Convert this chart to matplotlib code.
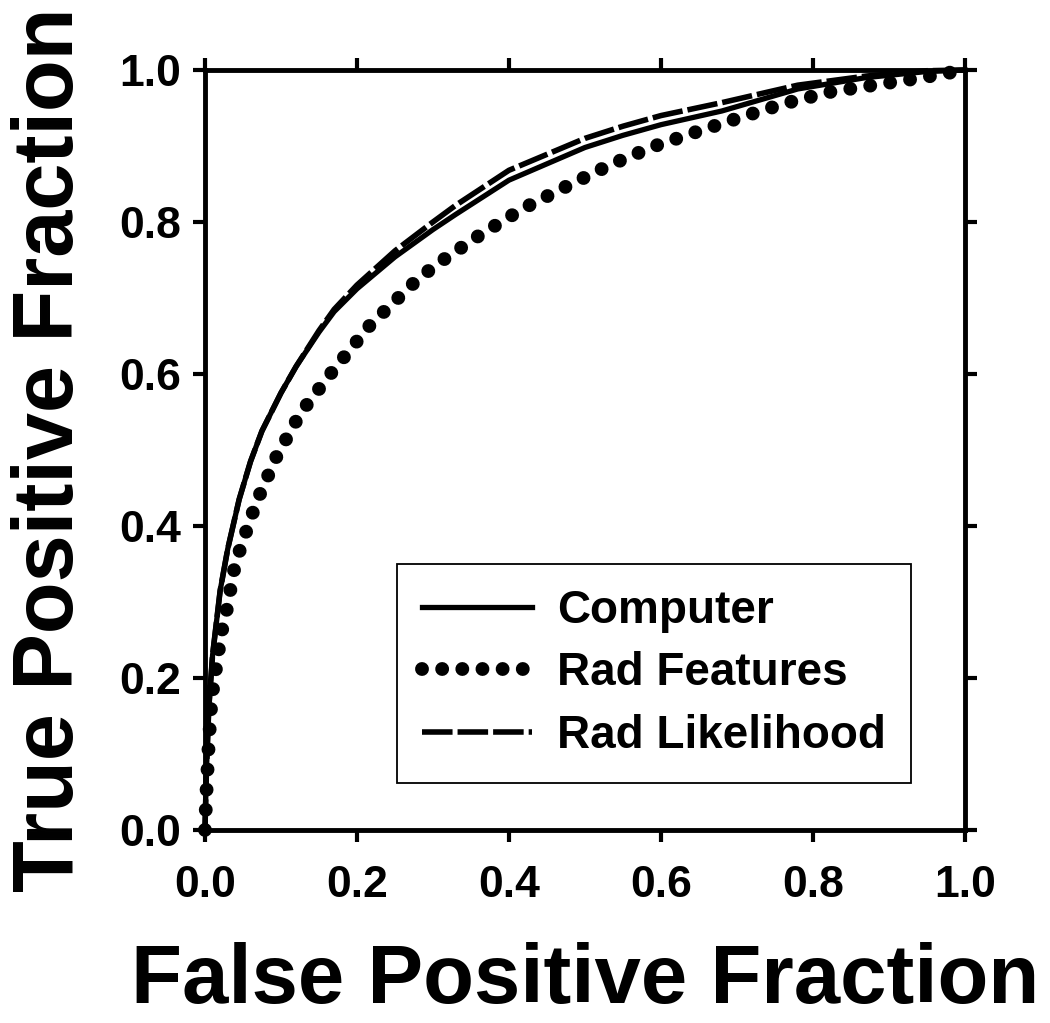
import matplotlib
matplotlib.use('Agg')
import matplotlib.pyplot as plt

# ROC curves
comp_fpf = [0, 0.002, 0.005, 0.01, 0.02, 0.03, 0.045, 0.06, 0.075, 0.1, 0.12, 0.15, 0.17,
            0.2, 0.25, 0.3, 0.33, 0.4, 0.5, 0.55, 0.6, 0.68, 0.78, 0.87, 0.95, 1.0]
comp_tpf = [0, 0.08, 0.16, 0.23, 0.315, 0.37, 0.435, 0.485, 0.525, 0.575, 0.61, 0.655, 0.682,
            0.712, 0.754, 0.79, 0.81, 0.855, 0.898, 0.914, 0.928, 0.946, 0.975, 0.99, 0.998, 1.0]

lik_fpf = [0, 0.002, 0.005, 0.01, 0.02, 0.03, 0.045, 0.06, 0.075, 0.1, 0.12, 0.15, 0.17,
           0.2, 0.25, 0.3, 0.33, 0.4, 0.5, 0.55, 0.6, 0.68, 0.78, 0.87, 0.95, 1.0]
lik_tpf = [0, 0.08, 0.16, 0.23, 0.315, 0.37, 0.435, 0.485, 0.525, 0.575, 0.61, 0.657, 0.685,
           0.717, 0.762, 0.80, 0.822, 0.868, 0.91, 0.926, 0.94, 0.957, 0.98, 0.992, 0.999, 1.0]

feat_fpf = [0, 0.002, 0.005, 0.0088, 0.013, 0.0175, 0.022, 0.0285, 0.039, 0.048, 0.068, 0.094,
            0.126, 0.169, 0.217, 0.274, 0.303, 0.362, 0.419, 0.476, 0.535, 0.592, 0.651,
            0.706, 0.763, 0.822, 0.879, 0.938, 1.0]
feat_tpf = [0, 0.05, 0.114, 0.173, 0.202, 0.233, 0.261, 0.289, 0.346, 0.375, 0.432, 0.491,
            0.549, 0.605, 0.664, 0.719, 0.743, 0.783, 0.818, 0.847, 0.876, 0.900, 0.920,
            0.938, 0.956, 0.971, 0.980, 0.989, 1.0]

ticks = [0.0, 0.2, 0.4, 0.6, 0.8, 1.0]
tick_labels = ['0.0', '0.2', '0.4', '0.6', '0.8', '1.0']

plt.rcParams['font.family'] = ['Liberation Sans', 'DejaVu Sans']
plt.rcParams['font.weight'] = 'bold'

fig = plt.figure(figsize=(10.5, 10.23), dpi=100)
ax = fig.add_axes([0.1952, 0.1887, 0.7238, 0.7429])

ax.plot(comp_fpf, comp_tpf, color='black', lw=3.8, ls='-', label='Computer', clip_on=False)
ax.plot(feat_fpf, feat_tpf, color='black', lw=10, ls=(0, (0.001, 1.45)),
        dash_capstyle='round', label='Rad Features', clip_on=False)
ax.plot(lik_fpf, lik_tpf, color='black', lw=4, ls=(0, (5.5, 0.9)),
        dash_capstyle='butt', label='Rad Likelihood', clip_on=False)

ax.set_xlim(0, 1)
ax.set_ylim(0, 1)
ax.set_xticks(ticks)
ax.set_yticks(ticks)
ax.set_xticklabels(tick_labels)
ax.set_yticklabels(tick_labels)
for s in ax.spines.values():
    s.set_linewidth(3.5)
ax.tick_params(which='major', direction='out', length=8.5, width=3,
               top=True, right=True, labelsize=32)
ax.tick_params(axis='x', pad=17)
ax.tick_params(axis='y', pad=9)

ax.set_xlabel('False Positive Fraction', fontsize=60, fontweight='bold', labelpad=26)
ax.set_ylabel('True Positive Fraction', fontsize=61, fontweight='bold', labelpad=20)

leg = ax.legend(loc='lower left', bbox_to_anchor=(0.2526, 0.062), fontsize=33,
                frameon=True, fancybox=False, edgecolor='black', framealpha=1,
                handlelength=2.4, handletextpad=0.55, labelspacing=0.4, borderpad=0.55,
                borderaxespad=0)
leg.get_frame().set_linewidth(1.3)

fig.savefig('out.png', dpi=100)
